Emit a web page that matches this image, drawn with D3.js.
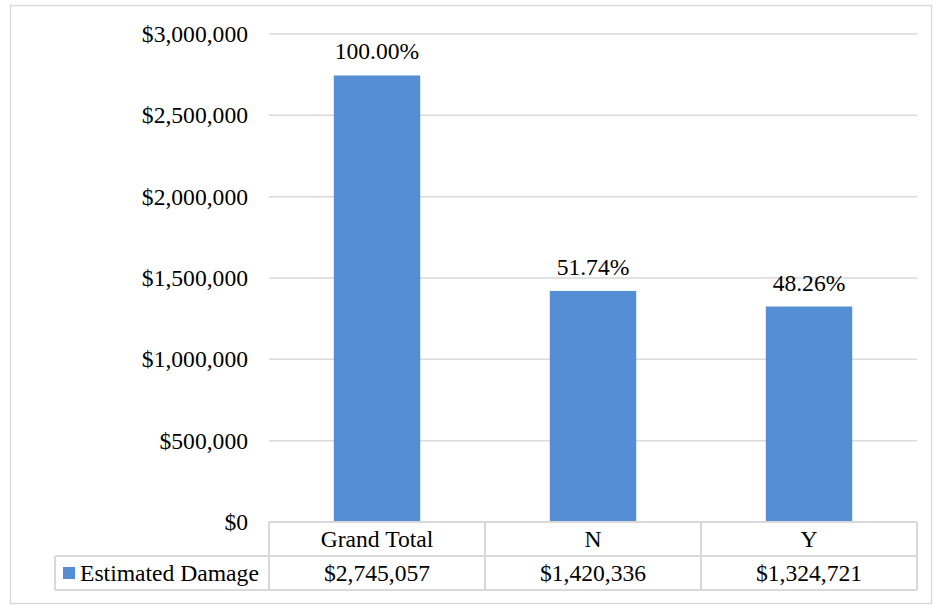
<!DOCTYPE html>
<html>
<head>
<meta charset="utf-8">
<script src="https://cdn.jsdelivr.net/npm/d3@7"></script>
<style>
  html, body { margin: 0; padding: 0; background: #fff; }
  svg { display: block; }
  svg text { font-family: "Liberation Serif", "Times New Roman", Tinos, Times, "Noto Serif", "DejaVu Serif", serif; fill: #000; }
</style>
</head>
<body>
<svg id="chart" width="933" height="605"></svg>
<script>
// Estimated damage by category
const categories = ["Grand Total", "N", "Y"];
const damage = [2745057, 1420336, 1324721];
const seriesName = "Estimated Damage";
const yTicks = [0, 500000, 1000000, 1500000, 2000000, 2500000, 3000000];

const W = 933, H = 605;
const plot = { left: 269, right: 917, top: 34, bottom: 522 };
const rowH = 34;
const legendLeft = 55;
const barColor = "#558ed5";
const lineColor = "#d9d9d9";
const fontSize = 23.6;
const serif = '"Liberation Serif", "Times New Roman", Tinos, Times, "Noto Serif", "DejaVu Serif", serif';

const svg = d3.select("#chart");

// outer chart border
svg.append("rect")
  .attr("x", 10.5).attr("y", 5.5)
  .attr("width", W - 12).attr("height", H - 7)
  .attr("fill", "#fff").attr("stroke", lineColor).attr("stroke-width", 1.5);

const y = d3.scaleLinear().domain([0, 3000000]).range([plot.bottom, plot.top]);
const x = d3.scaleBand().domain(categories).range([plot.left, plot.right])
  .paddingInner(0.6).paddingOuter(0.3);

// horizontal gridlines
svg.append("g").selectAll("line")
  .data(yTicks.filter(d => d > 0))
  .join("line")
  .attr("x1", plot.left).attr("x2", plot.right)
  .attr("y1", d => y(d)).attr("y2", d => y(d))
  .attr("stroke", lineColor).attr("stroke-width", 1.5);

// y axis labels
const yAxis = d3.axisLeft(y).tickValues(yTicks).tickFormat(d3.format("$,.0f")).tickSize(0).tickPadding(21);
const gy = svg.append("g").attr("transform", `translate(${plot.left},0)`).call(yAxis)
  .attr("font-family", null).attr("font-size", null);
gy.select(".domain").remove();
gy.selectAll("text")
  .style("font-family", serif)
  .style("font-size", fontSize + "px").attr("fill", "#000");

// bars
svg.append("g").selectAll("rect")
  .data(categories)
  .join("rect")
  .attr("x", d => x(d))
  .attr("width", x.bandwidth())
  .attr("y", (d, i) => y(damage[i]))
  .attr("height", (d, i) => y(0) - y(damage[i]))
  .attr("fill", barColor);

// percentage labels (share of the grand total)
const total = damage[0];
const pct = d3.format(".2%");
svg.append("g").selectAll("text")
  .data(categories)
  .join("text")
  .attr("x", d => x(d) + x.bandwidth() / 2)
  .attr("y", (d, i) => y(damage[i]) - 16)
  .attr("text-anchor", "middle")
  .style("font-family", serif)
  .style("font-size", fontSize + "px")
  .text((d, i) => pct(damage[i] / total));

// data table under the plot
const table = svg.append("g");
const colEdges = categories.map(c => x(c) - x.step() * x.paddingInner() / 2);
colEdges.push(plot.right);
const r0 = plot.bottom, r1 = plot.bottom + rowH, r2 = plot.bottom + 2 * rowH;

const hLines = [
  [plot.left, plot.right, r0],
  [legendLeft, plot.right, r1],
  [legendLeft, plot.right, r2]
];
table.selectAll("line.h").data(hLines).join("line")
  .attr("class", "h")
  .attr("x1", d => d[0]).attr("x2", d => d[1])
  .attr("y1", d => d[2]).attr("y2", d => d[2])
  .attr("stroke", lineColor).attr("stroke-width", 2);

const vLines = colEdges.map(xe => [xe, r0, r2]).concat([[legendLeft, r1, r2]]);
table.selectAll("line.v").data(vLines).join("line")
  .attr("class", "v")
  .attr("x1", d => d[0]).attr("x2", d => d[0])
  .attr("y1", d => d[1]).attr("y2", d => d[2])
  .attr("stroke", lineColor).attr("stroke-width", 2);

// header row: category names
table.selectAll("text.cat").data(categories).join("text")
  .attr("class", "cat")
  .attr("x", d => x(d) + x.bandwidth() / 2)
  .attr("y", r0 + rowH / 2)
  .attr("dy", "0.35em")
  .attr("text-anchor", "middle")
  .style("font-family", serif)
  .style("font-size", fontSize + "px")
  .text(d => d);

// value row
const money = d3.format("$,.0f");
table.selectAll("text.val").data(categories).join("text")
  .attr("class", "val")
  .attr("x", d => x(d) + x.bandwidth() / 2)
  .attr("y", r1 + rowH / 2)
  .attr("dy", "0.35em")
  .attr("text-anchor", "middle")
  .style("font-family", serif)
  .style("font-size", fontSize + "px")
  .text((d, i) => money(damage[i]));

// legend key in the table
table.append("rect")
  .attr("x", 63).attr("y", r1 + rowH / 2 - 6)
  .attr("width", 12).attr("height", 12)
  .attr("fill", barColor);
table.append("text")
  .attr("x", 80).attr("y", r1 + rowH / 2)
  .attr("dy", "0.35em")
  .style("font-family", serif)
  .style("font-size", fontSize + "px")
  .text(seriesName);
</script>
</body>
</html>
